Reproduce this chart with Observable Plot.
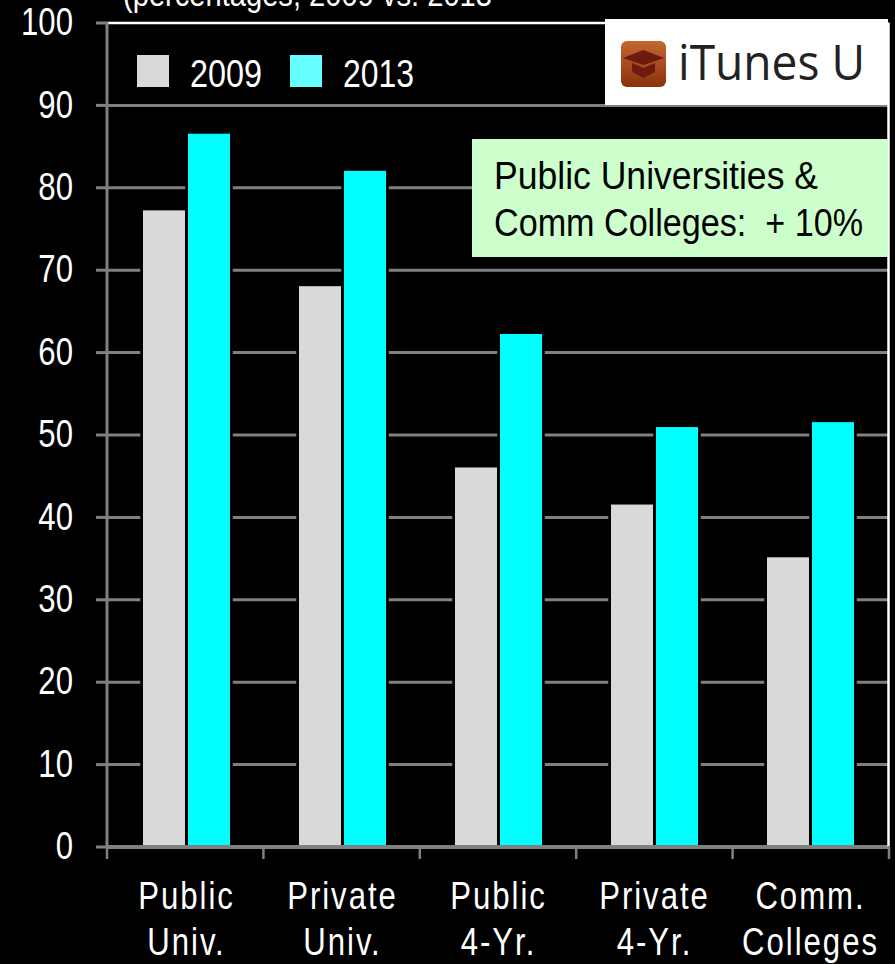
<!DOCTYPE html>
<html>
<head>
<meta charset="utf-8">
<script src="https://cdn.jsdelivr.net/npm/d3@7"></script>
<script src="https://cdn.jsdelivr.net/npm/@observablehq/plot@0.6"></script>
<style>
html,body{margin:0;padding:0;background:#000;overflow:hidden}
svg{display:block}
</style>
</head>
<body>
<div id="chart"></div>
<script>
const categories = ["Public\nUniv.", "Private\nUniv.", "Public\n4-Yr.", "Private\n4-Yr.", "Comm.\nColleges"];
const years = ["2009", "2013"];
const values2009 = [77.2, 68.0, 46.0, 41.5, 35.1];
const values2013 = [86.5, 82.0, 62.2, 50.9, 51.5];
const yTicks = [0, 10, 20, 30, 40, 50, 60, 70, 80, 90, 100];
const yearColors = ["#d9d9d9", "#00ffff"];
const legendColors = ["#d9d9d9", "#66ffff"];
const subtitle = "(percentages, 2009 vs. 2013";
const noteLines = ["Public Universities &", "Comm Colleges:  + 10%"];
const logoText = "iTunes U";

const font = '"Liberation Sans", sans-serif';
const rows = categories.flatMap((c, i) => [
  {category: c, year: years[0], value: values2009[i]},
  {category: c, year: years[1], value: values2013[i]}
]);
const x0 = 107, x1 = 889;

const chart = Plot.plot({
  width: 895,
  height: 964,
  marginLeft: 107,
  marginRight: 6,
  marginTop: 22.5,
  marginBottom: 117.5,
  style: {background: "#000", color: "#fff", fontFamily: font},
  fx: {domain: categories, padding: 0, axis: null},
  x: {domain: years, paddingInner: 0.07, paddingOuter: 0.755, axis: null},
  y: {domain: [0, 100], axis: null},
  color: {domain: years, range: yearColors},
  marks: [
    Plot.ruleY(yTicks.filter(d => d > 0 && d < 100), {stroke: "#808080", strokeWidth: 3}),
    Plot.ruleY([100], {stroke: "#fff", strokeWidth: 2.5}),
    Plot.barY(rows, {fx: "category", x: "year", y: "value", fill: "#000", stroke: "#000", strokeWidth: 5.5}),
    Plot.barY(rows, {fx: "category", x: "year", y: "value", fill: "year"}),
    Plot.axisY({ticks: yTicks, tickSize: 12, tickPadding: 23.5, fontSize: 38, stroke: "#808080", strokeWidth: 3, fill: "#fff", label: null, textStroke: "none"}),
    Plot.ruleY([0], {stroke: "#808080", strokeWidth: 4}),
    Plot.axisFx({anchor: "bottom", tickSize: 0, tickPadding: 29, fontSize: 38, lineHeight: 1.21, fill: "#fff", label: null})
  ]
});
document.getElementById("chart").append(chart);

// condense the axis labels to match the narrow sans face of the reference
chart.querySelectorAll('[aria-label="y-axis tick label"] text, [aria-label="fx-axis tick label"] text').forEach(t => {
  t.setAttribute("transform", (t.getAttribute("transform") || "") + " scale(0.82,1)");
});
chart.querySelectorAll('[aria-label="fx-axis tick label"] text').forEach(t => {
  t.style.letterSpacing = "2.4px";
});

const yPos = v => chart.scale("y").apply(v);
const g = d3.select(chart).append("g").attr("text-anchor", "start");
const vline = (px, y1, y2, stroke, width) => g.append("line")
  .attr("x1", px).attr("x2", px).attr("y1", y1).attr("y2", y2)
  .attr("stroke", stroke).attr("stroke-width", width);
vline(x1 - 0.5, yPos(100), yPos(0), "#fff", 2.5);
vline(x0, yPos(100), yPos(0), "#808080", 3);
d3.range(categories.length + 1).forEach(i => {
  vline(x0 + i * (x1 - x0) / categories.length, yPos(0), yPos(0) + 12.5, "#808080", 2.5);
});
const label = (text, x, y, size, length, fill, family) => g.append("text").text(text)
  .attr("x", x).attr("y", y).attr("fill", fill).attr("font-size", size).attr("font-family", family || font)
  .attr("text-anchor", "start")
  .attr("textLength", length).attr("lengthAdjust", "spacingAndGlyphs").style("white-space", "pre");

label(subtitle, 123, 6, 33, 369, "#fff");
const legendLengths = [72, 71];
years.forEach((yr, i) => {
  const lx = 137 + i * 153;
  g.append("rect").attr("x", lx).attr("y", 55).attr("width", 32).attr("height", 32).attr("fill", legendColors[i]);
  label(yr, lx + 53, 87, 39, legendLengths[i], "#fff");
});
g.append("rect").attr("x", 472).attr("y", 139).attr("width", 416).attr("height", 118).attr("fill", "#ccffcc");
const noteLengths = [324, 369];
noteLines.forEach((t, i) => label(t, 494, 189 + i * 47, 38, noteLengths[i], "#000"));

g.append("rect").attr("x", 605).attr("y", 19).attr("width", 283).attr("height", 86).attr("fill", "#fff");
const grad = g.append("defs").append("linearGradient").attr("id", "iconGrad")
  .attr("x1", 0).attr("y1", 0).attr("x2", 0).attr("y2", 1);
grad.append("stop").attr("offset", 0).attr("stop-color", "#c4682f");
grad.append("stop").attr("offset", 1).attr("stop-color", "#8a300c");
g.append("rect").attr("x", 621).attr("y", 41).attr("width", 45).attr("height", 46).attr("rx", 6).attr("fill", "url(#iconGrad)");
g.append("path").attr("d", "M623 58L643.500 50L664 58L643.500 65Z M632 63L632 72L643.500 78L655 72L655 63L643.500 68Z").attr("fill", "#6e1a10");
label(logoText, 678, 80, 49, 187, "#222", '"Open Sans", sans-serif');
</script>
</body>
</html>
